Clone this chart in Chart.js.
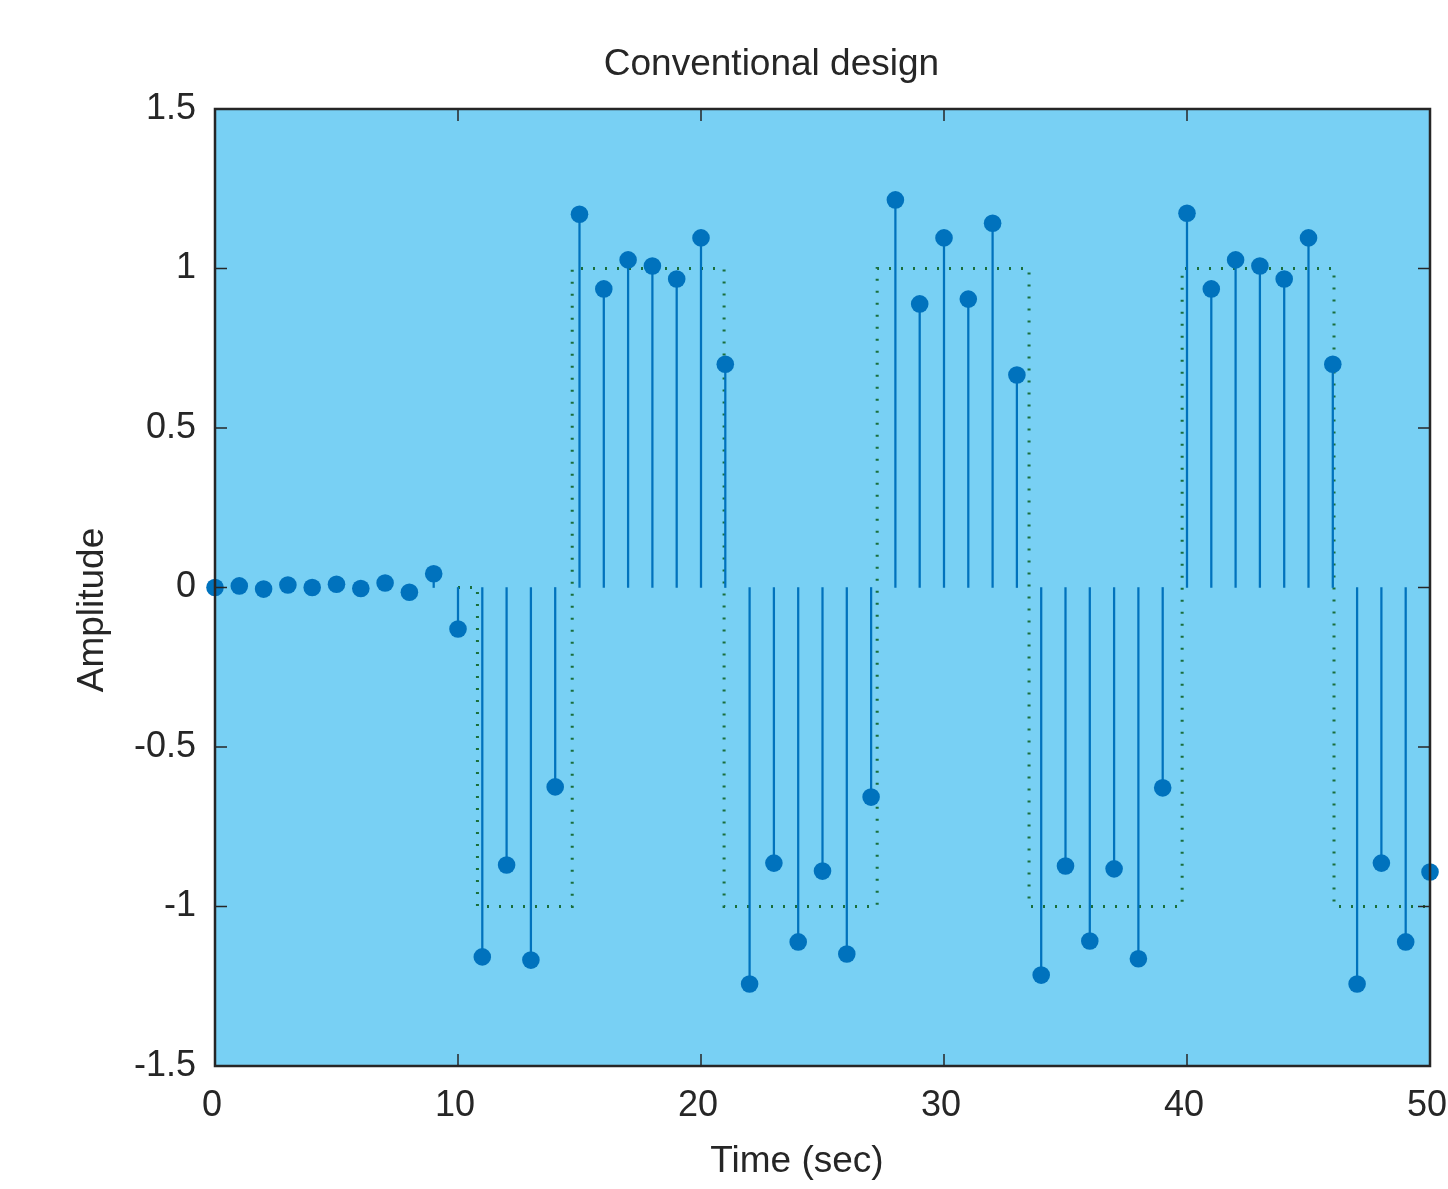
<!DOCTYPE html>
<html lang="en">
<head>
  <meta charset="UTF-8" />
  <title>Conventional design</title>
  <script src="https://cdn.jsdelivr.net/npm/chart.js"></script>
  <style>
    body { margin: 0; background: white; }
    #wrap { width: 1448px; height: 1189px; }
  </style>
</head>
<body>
  <div id="wrap"><canvas id="stemChart" width="1448" height="1189"></canvas></div>

  <script>
    // sample times (sec) and the sampled output
    const timeSteps = [
      0, 1, 2, 3, 4, 5, 6, 7, 8, 9,
      10, 11, 12, 13, 14, 15, 16, 17, 18, 19,
      20, 21, 22, 23, 24, 25, 26, 27, 28, 29,
      30, 31, 32, 33, 34, 35, 36, 37, 38, 39,
      40, 41, 42, 43, 44, 45, 46, 47, 48, 49, 50
    ];
    const response = [
      0, 0.005, -0.005, 0.008, 0, 0.01, -0.003, 0.014, -0.015, 0.043,
      -0.13, -1.158, -0.87, -1.168, -0.625, 1.17, 0.936, 1.027, 1.008, 0.967,
      1.096, 0.70, -1.243, -0.864, -1.111, -0.889, -1.149, -0.657, 1.215, 0.889,
      1.096, 0.904, 1.142, 0.666, -1.215, -0.873, -1.108, -0.882, -1.164, -0.628,
      1.173, 0.936, 1.027, 1.008, 0.967, 1.096, 0.70, -1.243, -0.864, -1.111, -0.892
    ];

    // reference square wave (dotted), corner points
    const refTime  = [10, 10.8, 10.8, 14.7, 14.7, 20.95, 20.95, 27.25, 27.25, 33.5, 33.5, 39.8, 39.8, 46.05, 46.05, 50];
    const refLevel = [0, 0, -1, -1, 1, 1, -1, -1, 1, 1, -1, -1, 1, 1, -1, -1];

    const xTicks = [0, 10, 20, 30, 40, 50];
    const yTicks = [-1.5, -1, -0.5, 0, 0.5, 1, 1.5];

    const titleText = "Conventional design";
    const xLabel = "Time (sec)";
    const yLabel = "Amplitude";

    const FONT = "'Liberation Sans', Arial, Helvetica, sans-serif";
    const INK = "#262626";
    const STEM = "#0072BD";

    const points = response.map((v, i) => ({ x: timeSteps[i], y: v }));
    const refPoints = refLevel.map((v, i) => ({ x: refTime[i], y: v }));

    // light blue plot area
    const plotBg = {
      id: "plotBg",
      beforeDatasetsDraw(chart) {
        const { ctx, chartArea: a } = chart;
        ctx.save();
        ctx.fillStyle = "#78D0F4";
        ctx.fillRect(a.left, a.top, a.right - a.left, a.bottom - a.top);
        ctx.restore();
      }
    };

    // box, inward ticks on all four sides, titles
    const axesBox = {
      id: "axesBox",
      afterDatasetsDraw(chart) {
        const { ctx, chartArea: a, scales: { x, y } } = chart;
        const tl = 12;
        ctx.save();
        ctx.strokeStyle = INK;
        ctx.lineWidth = 1.5;
        ctx.beginPath();
        x.ticks.forEach(t => {
          const px = x.getPixelForValue(t.value);
          ctx.moveTo(px, a.bottom); ctx.lineTo(px, a.bottom - tl);
          ctx.moveTo(px, a.top); ctx.lineTo(px, a.top + tl);
        });
        y.ticks.forEach(t => {
          const py = y.getPixelForValue(t.value);
          ctx.moveTo(a.left, py); ctx.lineTo(a.left + tl, py);
          ctx.moveTo(a.right, py); ctx.lineTo(a.right - tl, py);
        });
        ctx.stroke();
        ctx.lineWidth = 2.5;
        ctx.strokeRect(a.left, a.top, a.right - a.left, a.bottom - a.top);

        ctx.fillStyle = INK;
        ctx.font = "37px " + FONT;
        ctx.textAlign = "center";
        ctx.textBaseline = "alphabetic";
        const w = a.right - a.left, h = a.bottom - a.top;
        ctx.fillText(titleText, a.left + w * 0.458, a.top - 34);
        ctx.fillText(xLabel, a.left + w * 0.479, a.bottom + 106);
        ctx.translate(a.left - 112, a.top + h * 0.5235);
        ctx.rotate(-Math.PI / 2);
        ctx.fillText(yLabel, 0, 0);
        ctx.restore();
      }
    };

    new Chart(document.getElementById("stemChart"), {
      type: "scatter",
      data: {
        datasets: [
          {
            label: "Output",
            type: "scatter",
            data: points,
            backgroundColor: STEM,
            borderWidth: 0,
            pointRadius: 8.8,
            pointHoverRadius: 8.8,
            clip: false
          },
          {
            label: "Stems",
            type: "bar",
            data: points,
            backgroundColor: STEM,
            borderWidth: 0,
            barThickness: 1.6
          },
          {
            label: "Reference",
            type: "line",
            data: refPoints,
            borderColor: "#1a6e3c",
            borderWidth: 3,
            borderDash: [2, 10],
            borderCapStyle: "butt",
            pointRadius: 0,
            fill: false,
            tension: 0
          }
        ]
      },
      options: {
        responsive: false,
        animation: false,
        layout: { padding: { top: 109, right: 0, left: 0, bottom: 0 } },
        plugins: {
          legend: { display: false },
          tooltip: { enabled: false },
          title: { display: false }
        },
        scales: {
          x: {
            type: "linear",
            offset: false,
            min: 0,
            max: 50,
            grid: { display: false, drawTicks: false, offset: false },
            border: { display: false },
            afterBuildTicks: s => { s.ticks = xTicks.map(v => ({ value: v })); },
            afterFit: s => { s.height = 123; s.paddingRight = 18; },
            ticks: {
              color: INK,
              padding: 18,
              labelOffset: -3,
              maxRotation: 0,
              autoSkip: false,
              font: { family: FONT, size: 36 },
              callback: v => String(v)
            }
          },
          y: {
            type: "linear",
            min: -1.5,
            max: 1.5,
            grid: { display: false, drawTicks: false },
            border: { display: false },
            afterBuildTicks: s => { s.ticks = yTicks.map(v => ({ value: v })); },
            afterFit: s => { s.width = 215; },
            ticks: {
              color: INK,
              padding: 19,
              autoSkip: false,
              font: { family: FONT, size: 36 },
              callback: v => String(v)
            }
          }
        }
      },
      plugins: [plotBg, axesBox]
    });
  </script>
</body>
</html>
